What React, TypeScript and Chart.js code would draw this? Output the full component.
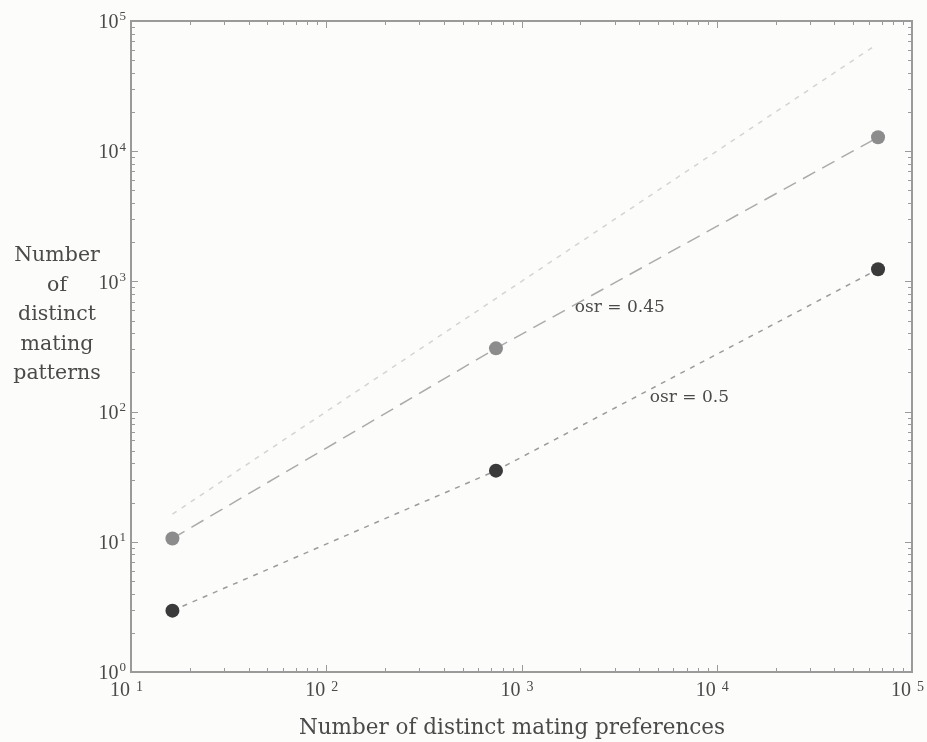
import React, { useEffect, useRef } from "react";
import { Chart, registerables } from "chart.js";

Chart.register(...registerables);

// ---- data ----
const preferences = [16.3, 740, 67000];
const patternsOsr045 = [10.6, 306, 12800];
const patternsOsr05 = [2.96, 35.2, 1240];
const referenceX = [16.3, 65000];
const referenceY = [16.3, 65000];

const xExponents = [1, 2, 3, 4, 5];
const yExponents = [0, 1, 2, 3, 4, 5];
const xTitle = "Number of distinct mating preferences";
const yTitleLines = ["Number", "of", "distinct", "mating", "patterns"];
const annotations = [
  { text: "osr = 0.45", x: 1875, y: 625 },
  { text: "osr = 0.5", x: 4540, y: 129 },
];

const SERIF = '"Liberation Serif", "DejaVu Serif", serif';
const WIDE_SERIF = '"DejaVu Serif", "Liberation Serif", serif';
const TEXT = "#4a4a4a";

function logTicks(minExp: number, maxExp: number) {
  const out: { value: number; major: boolean }[] = [];
  for (let e = minExp; e <= maxExp; e++) {
    for (let m = 1; m <= 9; m++) {
      if (e === maxExp && m > 1) break;
      out.push({ value: m * Math.pow(10, e), major: m === 1 });
    }
  }
  return out;
}

function drawPow(
  ctx: CanvasRenderingContext2D,
  exp: string,
  x0: number,
  y: number,
  gap: number,
  supSize: number,
  raise: number,
  alignRight: boolean
) {
  ctx.font = `20px ${SERIF}`;
  const w1 = ctx.measureText("10").width;
  ctx.font = `${supSize}px ${SERIF}`;
  const w2 = ctx.measureText(exp).width;
  const start = alignRight ? x0 - (w1 + gap + w2) : x0;
  ctx.textAlign = "left";
  ctx.textBaseline = "middle";
  ctx.font = `20px ${SERIF}`;
  ctx.fillText("10", start, y);
  ctx.font = `${supSize}px ${SERIF}`;
  ctx.fillText(exp, start + w1 + gap, y - raise);
}

const framePlugin = {
  id: "frame",
  beforeDraw(chart: any) {
    const { ctx, width, height } = chart;
    ctx.save();
    ctx.fillStyle = "#fcfcfb";
    ctx.fillRect(0, 0, width, height);
    ctx.restore();
  },
  afterDraw(chart: any) {
    const { ctx, chartArea, scales } = chart;
    const { left, right, top, bottom } = chartArea;
    const xs = scales.x;
    const ys = scales.y;
    ctx.save();
    ctx.strokeStyle = "#9a9a9a";
    ctx.lineWidth = 1;
    for (const t of logTicks(xExponents[0], xExponents[xExponents.length - 1])) {
      const px = Math.round(xs.getPixelForValue(t.value)) + 0.5;
      const len = t.major ? 7 : 4;
      ctx.beginPath();
      ctx.moveTo(px, bottom);
      ctx.lineTo(px, bottom - len);
      ctx.moveTo(px, top);
      ctx.lineTo(px, top + len);
      ctx.stroke();
    }
    for (const t of logTicks(yExponents[0], yExponents[yExponents.length - 1])) {
      const py = Math.round(ys.getPixelForValue(t.value)) + 0.5;
      const len = t.major ? 7 : 4;
      ctx.beginPath();
      ctx.moveTo(left, py);
      ctx.lineTo(left + len, py);
      ctx.moveTo(right, py);
      ctx.lineTo(right - len, py);
      ctx.stroke();
    }
    ctx.lineWidth = 2;
    ctx.strokeStyle = "#9a9a9a";
    ctx.strokeRect(left, top, right - left, bottom - top);

    ctx.fillStyle = TEXT;
    for (const e of xExponents) {
      const px = xs.getPixelForValue(Math.pow(10, e));
      drawPow(ctx, String(e), px - 21, bottom + 19, 6, 14, 4, false);
    }
    for (const e of yExponents) {
      const py = ys.getPixelForValue(Math.pow(10, e));
      drawPow(ctx, String(e), left - 5, py + 2, 1, 13, 6, true);
    }

    ctx.font = `21.5px ${WIDE_SERIF}`;
    ctx.textAlign = "center";
    ctx.textBaseline = "middle";
    ctx.fillText(xTitle, 512, bottom + 56);

    ctx.font = `20.5px ${WIDE_SERIF}`;
    yTitleLines.forEach((line, i) => {
      ctx.fillText(line, 57, 256 + i * 29.5);
    });

    ctx.font = `17px ${WIDE_SERIF}`;
    ctx.textAlign = "left";
    for (const a of annotations) {
      ctx.fillText(a.text, xs.getPixelForValue(a.x), ys.getPixelForValue(a.y));
    }
    ctx.restore();
  },
};

export default function App() {
  const ref = useRef<HTMLCanvasElement>(null);
  useEffect(() => {
    if (!ref.current) return;
    const chart = new Chart(ref.current, {
      type: "scatter",
      data: {
        datasets: [
          {
            label: "y = x",
            data: referenceX.map((x, i) => ({ x, y: referenceY[i] })),
            showLine: true,
            borderColor: "#d4d4d4",
            borderWidth: 1.5,
            borderDash: [5, 6],
            pointRadius: 0,
          },
          {
            label: "osr = 0.45",
            data: preferences.map((x, i) => ({ x, y: patternsOsr045[i] })),
            showLine: true,
            borderColor: "#ababab",
            borderWidth: 1.5,
            borderDash: [14, 8],
            pointRadius: 7,
            pointBackgroundColor: "#8c8c8c",
            pointBorderWidth: 0,
          },
          {
            label: "osr = 0.5",
            data: preferences.map((x, i) => ({ x, y: patternsOsr05[i] })),
            showLine: true,
            borderColor: "#9c9c9c",
            borderWidth: 1.5,
            borderDash: [5, 6],
            pointRadius: 7,
            pointBackgroundColor: "#3a3a3a",
            pointBorderWidth: 0,
          },
        ],
      },
      options: {
        animation: false,
        responsive: true,
        maintainAspectRatio: false,
        layout: { padding: { top: 21, right: 15, left: 0, bottom: 0 } },
        plugins: { legend: { display: false }, tooltip: { enabled: false } },
        scales: {
          x: {
            type: "logarithmic",
            min: Math.pow(10, xExponents[0]),
            max: Math.pow(10, xExponents[xExponents.length - 1]),
            grid: { display: false },
            border: { display: false },
            ticks: { display: false },
            afterFit: (s: any) => {
              s.height = 70;
            },
          },
          y: {
            type: "logarithmic",
            min: Math.pow(10, yExponents[0]),
            max: Math.pow(10, yExponents[yExponents.length - 1]),
            grid: { display: false },
            border: { display: false },
            ticks: { display: false },
            afterFit: (s: any) => {
              s.width = 131;
            },
          },
        },
      },
      plugins: [framePlugin],
    } as any);
    return () => chart.destroy();
  }, []);
  return (
    <div style={{ position: "fixed", left: 0, top: 0, width: 927, height: 742 }}>
      <canvas ref={ref} />
    </div>
  );
}
